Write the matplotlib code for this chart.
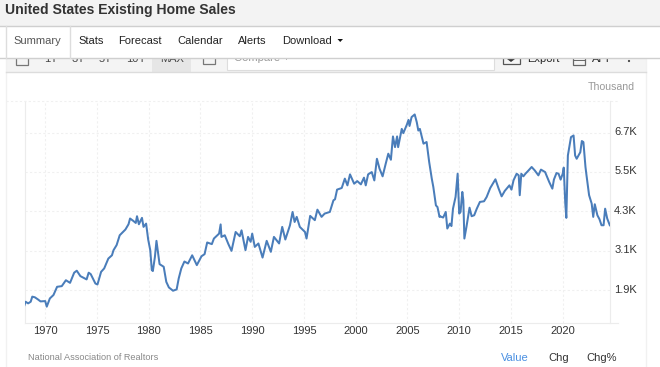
import matplotlib
matplotlib.use("Agg")
import matplotlib.pyplot as plt
from matplotlib.patches import Rectangle, Polygon, Circle
from matplotlib.transforms import ScaledTranslation

plt.rcParams['font.family'] = ['Liberation Sans', 'DejaVu Sans']

title = "United States Existing Home Sales"
tabs = ["Summary", "Stats", "Forecast", "Calendar", "Alerts", "Download"]
ranges = ["1Y", "3Y", "5Y", "10Y", "MAX"]
source = "National Association of Realtors"
unit = "Thousand"
y_ticks = [1900, 3100, 4300, 5500, 6700]
y_tick_labels = ["1.9K", "3.1K", "4.3K", "5.5K", "6.7K"]
x_ticks = [1970, 1975, 1980, 1985, 1990, 1995, 2000, 2005, 2010, 2015, 2020]

years_a = [1968.0, 1968.1, 1968.35, 1968.6, 1968.75, 1969.0, 1969.3, 1969.55, 1970.0, 1970.15, 1970.45, 1970.8,
           1971.15, 1971.6, 1972.0, 1972.4, 1972.8, 1973.05, 1973.4, 1974.0, 1974.2, 1974.4, 1974.85, 1975.05,
           1975.4, 1975.7, 1976.1, 1976.45, 1976.6, 1976.9, 1977.2, 1977.75, 1978.05, 1978.2, 1978.5, 1978.75,
           1978.87, 1979.05, 1979.35, 1979.5, 1979.75, 1979.95, 1980.15, 1980.3, 1980.4, 1980.6, 1980.75, 1981.05,
           1981.45, 1981.7, 1981.95, 1982.35, 1982.7, 1982.9, 1983.15, 1983.45, 1983.8, 1984.2, 1984.65, 1985.1,
           1985.4, 1985.65, 1986.1, 1986.3, 1986.8]
sales_a = [1444, 1545, 1495, 1545, 1700, 1680, 1615, 1555, 1565, 1395, 1645, 1750,
           2000, 2020, 2200, 2120, 2430, 2490, 2325, 2225, 2430, 2385, 2100, 2070,
           2455, 2560, 2860, 2960, 3115, 3270, 3570, 3745, 3905, 4080, 4010, 3945,
           4150, 3905, 4100, 3825, 3925, 3440, 3115, 2510, 2480, 2910, 3400, 2690,
           2610, 2150, 1980, 1880, 1920, 2255, 2560, 2770, 2710, 2960, 2660, 2930,
           2995, 3350, 3300, 3470, 3620]

years_b = [1986.95, 1987.03, 1987.35, 1987.7, 1988.0, 1988.4, 1988.8, 1988.97, 1989.35, 1989.6, 1989.85, 1990.0,
           1990.25, 1990.6, 1991.0, 1991.4, 1991.8, 1992.1, 1992.6, 1992.9, 1993.2, 1993.65, 1993.9, 1994.1,
           1994.3, 1994.6, 1995.1, 1995.25, 1995.6, 1996.05, 1996.3, 1996.7, 1997.0, 1997.5, 1997.85, 1998.0,
           1998.2, 1998.65, 1998.95, 1999.2, 1999.45, 1999.85, 2000.15, 2000.5, 2000.8, 2000.97, 2001.2, 2001.55,
           2001.8, 2002.05, 2002.3, 2002.6, 2002.9, 2003.15, 2003.4, 2003.6, 2003.8, 2004.0, 2004.1, 2004.45,
           2004.6, 2004.95, 2005.1, 2005.2, 2005.4, 2005.7, 2005.9, 2006.05, 2006.2, 2006.55, 2006.85, 2007.1,
           2007.35, 2007.5, 2007.75, 2007.9, 2008.1]
sales_b = [3900, 3520, 3570, 3300, 3095, 3670, 3540, 3720, 3115, 3520, 3370, 3620,
           3215, 3320, 2890, 3400, 3065, 3520, 3320, 3825, 3440, 3875, 4280, 3975,
           4130, 3825, 3670, 3470, 4160, 4030, 4350, 4130, 4230, 4280, 4635, 4665,
           4960, 5010, 5295, 5090, 5425, 5140, 5220, 5120, 5325, 5090, 5425, 5495,
           5240, 5900, 5600, 5365, 5750, 6055, 5870, 6580, 6255, 6580, 6255, 6810,
           6680, 6945, 7085, 6900, 7170, 7250, 7015, 6760, 6810, 6360, 6410, 5800,
           5295, 5040, 4480, 4430, 4130]

years_c = [2008.13, 2008.45, 2008.7, 2008.85, 2009.1, 2009.25, 2009.4, 2009.65, 2009.85, 2010.0, 2010.13, 2010.3,
           2010.4, 2010.5, 2010.7, 2011.0, 2011.2, 2011.45, 2011.7, 2012.0, 2012.4, 2012.65, 2013.0, 2013.5,
           2013.8, 2014.1, 2014.4, 2014.85, 2015.05, 2015.25, 2015.55, 2015.75, 2015.85, 2016.0, 2016.2, 2016.4,
           2016.7, 2017.0, 2017.3, 2017.65, 2017.9, 2018.3, 2018.7, 2019.0, 2019.15, 2019.4, 2019.6, 2019.8,
           2020.0, 2020.1, 2020.25, 2020.35, 2020.5, 2020.8, 2021.05, 2021.2, 2021.35, 2021.7, 2021.85, 2022.0,
           2022.2, 2022.3, 2022.55, 2022.8, 2022.95, 2023.1, 2023.35, 2023.55, 2023.75, 2023.95, 2024.1, 2024.3,
           2024.55]
sales_c = [4150, 4110, 4280, 3775, 3925, 3850, 4380, 4740, 5445, 4230, 4280, 4890,
           4635, 3470, 3825, 4410, 4150, 4180, 4380, 4585, 4605, 4735, 5010, 5275,
           5000, 4755, 4920, 5090, 4960, 5245, 5445, 5395, 4790, 5445, 5365, 5445,
           5545, 5650, 5545, 5395, 5570, 5495, 5190, 4990, 5265, 5465, 5445, 5265,
           5445, 5630, 4535, 4100, 6000, 6560, 6610, 6000, 5900, 6100, 6440, 6410,
           5650, 5395, 4790, 4535, 4130, 4515, 4180, 4060, 3875, 3875, 4380, 4080,
           3875]

W, H = 660, 367
fig = plt.figure(figsize=(W / 100, H / 100), dpi=100, facecolor="white")

# chart
ax = fig.add_axes([24.5 / W, 1 - 323 / H, 585.5 / W, 222 / H], zorder=2)
ax.plot(years_a + years_b + years_c, sales_a + sales_b + sales_c, color="#4a7dba", lw=1.45,
        solid_joinstyle="round", zorder=3)
ax.set_xlim(1968, 2024.57)
ax.set_ylim(897, 7660)
ax.set_xticks(x_ticks)
ax.set_yticks(y_ticks, y_tick_labels)
ax.yaxis.tick_right()
ax.tick_params(axis="both", length=0, labelsize=8, labelcolor="#333333")
ax.tick_params(axis="x", pad=2.5)
ax.tick_params(axis="y", pad=3)
shift = ScaledTranslation(0, 1.5 / 100, fig.dpi_scale_trans)
for lab in ax.get_yticklabels():
    lab.set_transform(lab.get_transform() + shift)
ax.grid(True, color="#f0f0f0", lw=0.8, ls=(0, (2, 2)))
ax.set_axisbelow(True)
ax.spines["top"].set_visible(False)
for side in ("left", "bottom", "right"):
    ax.spines[side].set_color("#ececec")
    ax.spines[side].set_linewidth(0.8)

# page furniture, in pixel coordinates
pg = fig.add_axes([0, 0, 1, 1], zorder=1)
pg.set_xlim(0, W)
pg.set_ylim(H, 0)
pg.axis("off")
top = fig.add_axes([0, 0, 1, 1], zorder=3)
top.set_xlim(0, W)
top.set_ylim(H, 0)
top.axis("off")
top.patch.set_alpha(0)

pg.plot([5.5, 5.5], [58, 367], color="#f1f1f1", lw=1)
pg.plot([646, 646], [58, 367], color="#f1f1f1", lw=1)
pg.add_patch(Rectangle((6, 58), 640, 14, fc="#f4f4f4", ec="none"))
pg.plot([6, 646], [72.4, 72.4], color="#dcdcdc", lw=1)
pg.add_patch(Rectangle((152, 58), 39, 13.5, fc="#e6e6e6", ec="none"))
pg.add_patch(Rectangle((226.5, 55), 267.5, 15, fc="white", ec="#dddddd", lw=0.8))
for label, x in zip(ranges, [51, 78, 105, 136, 172]):
    pg.text(x, 58.5, label, fontsize=8, color="#444444", ha="center", va="center")
pg.text(234, 58, "Compare +", fontsize=8, color="#999999", va="center")
pg.text(527, 58.5, "Export", fontsize=8, color="#222222", va="center")
pg.text(592, 58.5, "API", fontsize=8, color="#222222", va="center")
pg.add_patch(Rectangle((16, 52), 12, 13, fc="none", ec="#777777", lw=0.9))
pg.add_patch(Rectangle((203, 52), 12, 12, fc="none", ec="#777777", lw=0.9))
pg.add_patch(Rectangle((502.5, 52), 17, 12, fc="none", ec="#555555", lw=0.9))
pg.add_patch(Polygon([[507, 59], [515, 59], [511, 62]], fc="#333333", ec="none"))
pg.add_patch(Rectangle((573, 52), 12, 12.5, fc="none", ec="#666666", lw=0.9))
pg.plot([573, 585], [60, 60], color="#666666", lw=0.7)
pg.add_patch(Circle((629, 61), 1.1, fc="#444444", ec="none"))

# header and tabs sit over the clipped toolbar
top.add_patch(Rectangle((0, 0), W, 25.5, fc="#f3f3f3", ec="none"))
top.add_patch(Rectangle((0, 25.5), W, 32.5, fc="white", ec="none"))
top.plot([0, W], [25.5, 25.5], color="#cfcfcf", lw=1)
top.plot([0, W], [58.3, 58.3], color="#cfcfcf", lw=1)
top.plot([5.5, 5.5], [25.5, 58], color="#dddddd", lw=1)
top.plot([69.5, 69.5], [25.5, 58], color="#dddddd", lw=1)
top.text(5, 10, title, fontsize=10.1, fontweight="bold", color="#333333", va="center")
for label, x, col in zip(tabs, [13, 78, 118, 177, 238, 282],
                         ["#555555", "#222222", "#222222", "#222222", "#222222", "#222222"]):
    top.text(x, 41.5, label, fontsize=8, color=col, va="center")
top.add_patch(Polygon([[337.5, 39], [343, 39], [340.2, 42]], fc="#111111", ec="none"))
top.plot([6, 618], [101, 101], color="#f0f0f0", lw=0.8, ls=(0, (2, 2)))
top.plot([610, 618], [323, 323], color="#ececec", lw=0.8)
top.text(634.5, 86.5, unit, fontsize=7.6, color="#999999", ha="right", va="center")
top.text(28, 357.5, source, fontsize=6.6, color="#888888", va="center")
top.text(501, 358, "Value", fontsize=8, color="#4a90e2", va="center")
top.text(548, 358, "Chg", fontsize=8, color="#333333", va="center")
top.text(586, 358, "Chg%", fontsize=8, color="#333333", va="center")

fig.savefig("out.png", dpi=100, facecolor="white")
